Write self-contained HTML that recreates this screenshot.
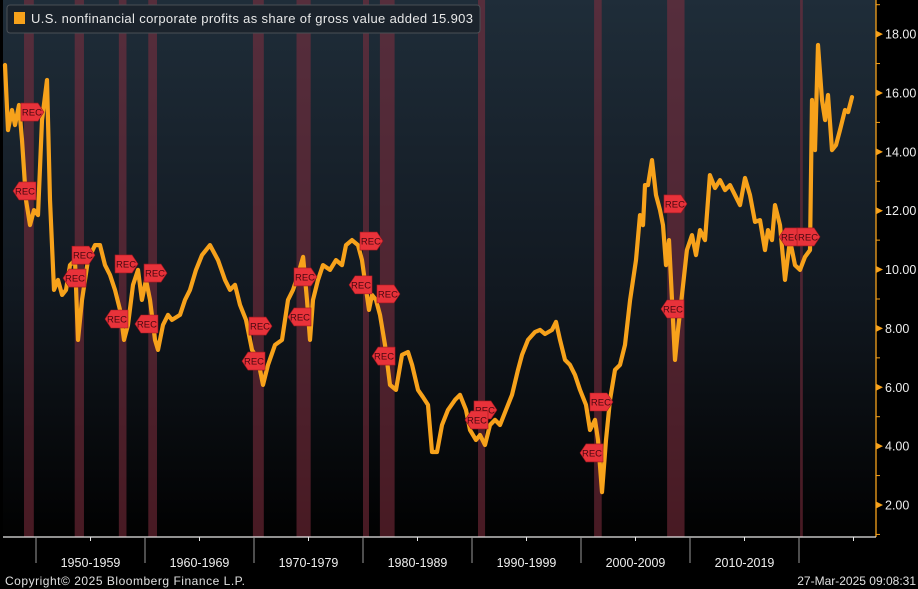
<!DOCTYPE html>
<html><head><meta charset="utf-8"><style>
html,body{margin:0;padding:0;background:#000;}
svg{display:block;font-family:"Liberation Sans",sans-serif;}
</style></head><body>
<svg id="chart" width="918" height="589" viewBox="0 0 918 589">
<defs>
<linearGradient id="bg" x1="0" y1="0" x2="0" y2="1">
<stop offset="0" stop-color="#1f2d39"/><stop offset="0.55" stop-color="#111820"/><stop offset="1" stop-color="#010101"/>
</linearGradient>
</defs>
<rect x="0" y="0" width="918" height="589" fill="#000"/>
<rect x="3" y="0" width="873" height="537" fill="url(#bg)"/>
<g id="bands"></g>
<g id="line"></g>
<g id="tags"></g>
<g id="yaxis"></g>
<g id="xaxis"></g>
<g>
<rect x="7" y="5" width="473" height="28" rx="3" fill="#1b232c" stroke="#4a4f55"/>
<rect x="14" y="12" width="11" height="12" fill="#f7a21b"/>
<text x="31" y="23" font-size="13" fill="#e8e8e8" textLength="442" lengthAdjust="spacing">U.S. nonfinancial corporate profits as share of gross value added 15.903</text>
</g>
<text x="5" y="585" font-size="12" fill="#e0e0e0" textLength="240">Copyright© 2025 Bloomberg Finance L.P.</text>
<text x="916" y="585" font-size="12" fill="#e0e0e0" text-anchor="end">27-Mar-2025 09:08:31</text>
</svg>
<script>
const years=[1947.16,1947.43,1947.80,1948.07,1948.44,1948.72,1949.08,1949.45,1949.82,1950.18,1950.55,1951.01,1951.28,1951.65,1952.02,1952.39,1952.75,1953.12,1953.58,1953.85,1954.22,1954.77,1955.41,1955.87,1956.33,1956.79,1957.25,1957.71,1958.07,1958.44,1958.90,1959.36,1959.72,1960.09,1960.46,1960.92,1961.19,1961.65,1962.11,1962.48,1963.21,1963.67,1964.13,1964.68,1965.23,1965.96,1966.70,1967.34,1967.80,1968.26,1968.72,1969.27,1969.82,1970.37,1970.83,1971.28,1971.93,1972.57,1973.12,1973.58,1974.04,1974.50,1974.86,1975.14,1975.41,1975.87,1976.33,1976.97,1977.52,1978.07,1978.44,1978.99,1979.54,1979.91,1980.28,1980.55,1980.83,1981.19,1981.56,1982.02,1982.48,1983.03,1983.58,1984.13,1984.50,1985.05,1985.50,1985.96,1986.33,1986.79,1987.25,1987.80,1988.44,1988.90,1989.45,1989.82,1990.37,1990.73,1991.19,1991.65,1992.11,1992.57,1993.12,1993.67,1994.22,1994.59,1995.14,1995.78,1996.24,1996.70,1997.34,1997.71,1998.07,1998.53,1998.99,1999.45,1999.91,2000.46,2000.83,2001.28,2001.56,2001.93,2002.29,2002.66,2003.12,2003.58,2004.04,2004.50,2005.05,2005.41,2005.69,2005.87,2006.15,2006.51,2006.88,2007.25,2007.52,2007.80,2008.07,2008.35,2008.62,2008.90,2009.27,2009.72,2010.18,2010.55,2010.92,2011.38,2011.83,2012.29,2012.75,2013.21,2013.67,2014.13,2014.59,2015.05,2015.50,2015.96,2016.42,2016.88,2017.16,2017.52,2017.80,2018.26,2018.72,2019.17,2019.63,2020.09,2020.55,2021.01,2021.19,2021.47,2021.74,2022.11,2022.39,2022.66,2023.03,2023.39,2023.76,2024.22,2024.50,2024.86];
const values=[16.95,14.74,15.42,14.91,15.59,14.40,12.36,11.51,12.02,11.85,15.08,16.44,12.36,9.31,9.65,9.14,9.31,10.15,10.32,7.61,8.97,10.32,10.83,10.83,10.15,9.82,9.31,8.63,7.61,8.12,9.48,9.99,8.97,9.65,8.97,7.61,7.27,8.12,8.46,8.29,8.46,8.97,9.31,9.99,10.49,10.83,10.32,9.65,9.31,9.48,8.80,8.29,7.27,6.93,6.08,6.76,7.44,7.61,8.97,9.31,9.82,10.43,8.97,7.61,8.97,9.65,10.15,9.99,10.32,10.15,10.83,11.00,10.83,10.32,9.31,8.63,9.14,8.97,8.46,7.44,6.08,5.91,7.10,7.20,6.76,5.91,5.67,5.40,3.80,3.80,4.72,5.23,5.57,5.74,5.23,4.55,4.21,4.38,4.04,4.72,4.89,4.72,5.23,5.74,6.59,7.10,7.61,7.88,7.95,7.81,7.95,8.22,7.61,6.93,6.76,6.42,5.91,5.40,4.55,4.89,4.21,2.44,4.21,5.57,6.59,6.76,7.44,8.97,10.32,11.85,11.51,12.87,12.87,13.72,12.53,12.02,11.51,10.15,11.00,8.97,6.93,7.95,9.14,10.66,11.17,10.49,11.34,11.00,13.21,12.77,13.04,12.70,12.87,12.53,12.19,13.11,12.53,11.62,11.68,10.66,11.34,11.00,12.19,11.51,9.65,11.00,10.15,9.99,10.43,10.66,15.76,14.06,17.63,15.76,15.08,15.93,14.06,14.23,14.74,15.42,15.35,15.86];
const recStart=[1948.9,1953.55,1957.6,1960.3,1969.9,1973.9,1980.0,1981.55,1990.55,2001.2,2007.9,2020.1];
const recEnd=[1949.8,1954.4,1958.3,1961.1,1970.9,1975.2,1980.55,1982.9,1991.2,2001.9,2009.5,2020.35];
const tagYears=[1949.63,1948.99,1954.31,1953.58,1958.26,1957.43,1960.92,1960.18,1970.55,1970.00,1974.68,1974.22,1980.73,1979.82,1982.29,1981.93,1991.19,1990.46,2001.83,2001.01,2008.62,2008.44,2019.27,2020.83];
const tagValues=[15.35,12.67,10.49,9.71,10.19,8.32,9.88,8.15,8.08,6.89,9.75,8.39,10.97,9.48,9.17,7.06,5.23,4.89,5.50,3.77,12.23,8.66,11.11,11.11];
const tagDirs=["r","l","r","l","r","l","r","l","r","l","r","l","r","l","r","l","r","l","r","l","r","l","l","r"];
const yTicks=[2,4,6,8,10,12,14,16,18];
const yMinor=[1,3,5,7,9,11,13,15,17,19];
const decades=[1950,1960,1970,1980,1990,2000,2010,2020];
const decadeLabels=["1950-1959","1960-1969","1970-1979","1980-1989","1990-1999","2000-2009","2010-2019"];

const NS="http://www.w3.org/2000/svg";
const X=y=>36+(y-1950)*10.9;
const Y=v=>505-(v-2)*29.43;
function mk(t,a,p){const e=document.createElementNS(NS,t);for(const k in a)e.setAttribute(k,a[k]);p.appendChild(e);return e;}

const bands=document.getElementById('bands');
recStart.forEach((s,i)=>{
 const r=mk('rect',{x:X(s),y:0,width:Math.max(2,X(recEnd[i])-X(s)),height:537,fill:'#843040','fill-opacity':0.55},bands);
 
 
});

const lg=document.getElementById('line');
const p=mk('polyline',{points:years.map((y,i)=>X(y).toFixed(1)+','+Y(values[i]).toFixed(1)).join(' '),fill:'none',stroke:'#f7a21b','stroke-width':4.2,'stroke-linejoin':'round','stroke-linecap':'round'},lg);



const tg=document.getElementById('tags');
tagYears.forEach((ty,i)=>{
 const cx=X(ty),cy=Y(tagValues[i]);
 const d=tagDirs[i]==='r'?1:-1;
 const pts=[[-11*d,-9],[6*d,-9],[12*d,0],[6*d,9],[-11*d,9]].map(q=>(cx+q[0])+','+(cy+q[1])).join(' ');
 const g=mk('g',{},tg);
 
 
 mk('polygon',{points:pts,fill:'#e8323a',stroke:'#a01820','stroke-width':0.6},g);
 const t=mk('text',{x:cx,y:cy+3.5,'font-size':9.5,fill:'#4a0810','text-anchor':'middle'},g);
 t.textContent='REC';
});

const ya=document.getElementById('yaxis');
mk('line',{x1:876,y1:0,x2:876,y2:537,stroke:'#f7a21b','stroke-width':1.3},ya);
yMinor.forEach(v=>{mk('line',{x1:876,y1:Y(v),x2:880,y2:Y(v),stroke:'#f7a21b'},ya);});
yTicks.forEach(v=>{
 const yy=Y(v);
 const m=mk('polygon',{points:`876,${yy-3.5} 883,${yy} 876,${yy+3.5}`,fill:'#f7a21b'},ya);
 
 
 const t=mk('text',{x:885,y:yy+4.5,'font-size':12.5,fill:'#eeeeee'},ya);
 
 
 t.textContent=v.toFixed(2);
});

const xa=document.getElementById('xaxis');
mk('line',{x1:3,y1:537,x2:876,y2:537,stroke:'#e8e8e8','stroke-width':1.2},xa);
decades.forEach(d=>{mk('line',{x1:X(d),y1:537,x2:X(d),y2:563,stroke:'#9a9a9a'},xa);mk('line',{x1:X(d+5),y1:537,x2:X(d+5),y2:541,stroke:'#e8e8e8'},xa);});
decadeLabels.forEach((l,i)=>{
 const t=mk('text',{x:X(decades[i]+5),y:567,'font-size':12.5,fill:'#eeeeee','text-anchor':'middle'},xa);
 
 
 t.textContent=l;
});
</script>
</body></html>
